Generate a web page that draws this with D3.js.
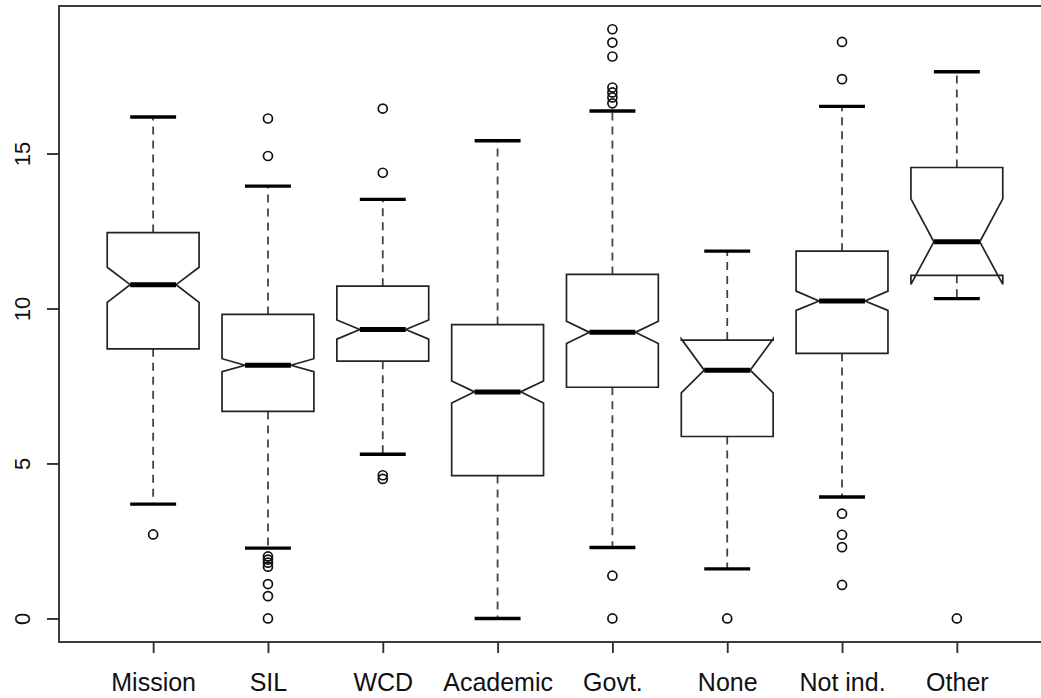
<!DOCTYPE html>
<html>
<head>
<meta charset="utf-8">
<script src="https://cdn.jsdelivr.net/npm/d3@7"></script>
<style>
  html, body { margin: 0; padding: 0; background: #fff; overflow: hidden; }
  svg { display: block; }
  text { font-family: "Liberation Sans", Arial, Helvetica, sans-serif; fill: #111; }
</style>
</head>
<body>
<svg id="chart" width="1041" height="698"></svg>
<script>
const categories = ["Mission", "SIL", "WCD", "Academic", "Govt.", "None", "Not ind.", "Other"];
const whiskerHi = [16.18, 13.95, 13.52, 15.41, 16.37, 11.85, 16.52, 17.64];
const q3        = [12.45,  9.81, 10.72,  9.48, 11.10,  8.98, 11.85, 14.55];
const notchHi   = [11.33,  8.38,  9.63,  7.66,  9.59,  9.02, 10.56, 13.54];
const median    = [10.77,  8.17,  9.32,  7.31,  9.23,  8.01, 10.24, 12.15];
const notchLo   = [10.20,  7.96,  9.01,  6.95,  8.87,  7.28,  9.94, 10.78];
const q1        = [ 8.70,  6.68,  8.30,  4.61,  7.46,  5.87,  8.55, 11.07];
const whiskerLo = [ 3.69,  2.27,  5.30,  0.00,  2.29,  1.60,  3.92, 10.32];
const outliers = [
  [2.71],
  [16.13, 14.92, 2.00, 1.90, 1.80, 1.67, 1.11, 0.72, 0.00],
  [16.45, 14.38, 4.62, 4.50],
  [],
  [19.01, 18.58, 18.13, 17.13, 16.97, 16.81, 16.62, 1.38, 0.00],
  [0.00],
  [18.60, 17.40, 3.38, 2.70, 2.30, 1.08],
  [0.00]
];
const yTicks = [0, 5, 10, 15];

const svg = d3.select("#chart");
const plot = { left: 59, right: 1051, top: 6, bottom: 642 };

const x = d3.scalePoint().domain(categories).range([plot.left, plot.right]).padding(0.82);
const y = d3.scaleLinear().domain([-0.76, 19.76]).range([plot.bottom, plot.top]);
const step = x.step();
const bw = step * 0.4;      // box half-width
const nw = bw * 0.5;        // notch half-width
const sw = step * 0.2;      // staple half-width

const data = categories.map((c, i) => ({
  c, wHi: whiskerHi[i], q3: q3[i], nHi: notchHi[i], med: median[i],
  nLo: notchLo[i], q1: q1[i], wLo: whiskerLo[i], out: outliers[i]
}));

const g = svg.append("g");

// whiskers
data.forEach(d => {
  const cx = x(d.c);
  [[d.q3, d.wHi], [d.q1, d.wLo]].forEach(([a, b]) => {
    g.append("line")
      .attr("x1", cx).attr("x2", cx)
      .attr("y1", y(a)).attr("y2", y(b))
      .attr("stroke", "#444").attr("stroke-width", 1.8)
      .attr("stroke-dasharray", "8,6");
  });
  [d.wHi, d.wLo].forEach(v => {
    g.append("line")
      .attr("x1", cx - sw).attr("x2", cx + sw)
      .attr("y1", y(v)).attr("y2", y(v))
      .attr("stroke", "#000").attr("stroke-width", 3.4);
  });
});

// notched boxes
data.forEach(d => {
  const cx = x(d.c);
  const xl = cx - bw, xr = cx + bw, ml = cx - nw, mr = cx + nw;
  const pts = [
    [xl, y(d.q1)], [xl, y(d.nLo)], [ml, y(d.med)], [xl, y(d.nHi)], [xl, y(d.q3)],
    [xr, y(d.q3)], [xr, y(d.nHi)], [mr, y(d.med)], [xr, y(d.nLo)], [xr, y(d.q1)]
  ];
  g.append("path")
    .attr("d", d3.line()(pts) + "Z")
    .attr("fill", "#fff").attr("stroke", "#222").attr("stroke-width", 1.7)
    .attr("stroke-linejoin", "miter");
  g.append("line")
    .attr("x1", ml).attr("x2", mr)
    .attr("y1", y(d.med)).attr("y2", y(d.med))
    .attr("stroke", "#000").attr("stroke-width", 5);
});

// outliers
data.forEach(d => {
  g.selectAll(null).data(d.out).enter().append("circle")
    .attr("cx", x(d.c)).attr("cy", v => y(v)).attr("r", 4.5)
    .attr("fill", "none").attr("stroke", "#111").attr("stroke-width", 1.7);
});

// frame
svg.append("rect")
  .attr("x", plot.left).attr("y", plot.top)
  .attr("width", plot.right - plot.left).attr("height", plot.bottom - plot.top)
  .attr("fill", "none").attr("stroke", "#333").attr("stroke-width", 1.9);

// x axis
const xAxis = svg.append("g").attr("transform", `translate(0,${plot.bottom})`)
  .call(d3.axisBottom(x).tickSize(11).tickPadding(20));
xAxis.select(".domain").remove();
xAxis.selectAll(".tick line").attr("stroke", "#333").attr("stroke-width", 1.9);
xAxis.selectAll(".tick text")
  .style("font-family", '"Liberation Sans", Arial, sans-serif')
  .attr("font-size", 25).attr("fill", "#111");

// y axis
const yAxis = svg.append("g").attr("transform", `translate(${plot.left},0)`)
  .call(d3.axisLeft(y).tickValues(yTicks).tickSize(12).tickFormat(d3.format("d")));
yAxis.select(".domain").remove();
yAxis.selectAll(".tick line").attr("stroke", "#333").attr("stroke-width", 1.9);
yAxis.selectAll(".tick text")
  .style("font-family", '"Liberation Sans", Arial, sans-serif')
  .attr("font-size", 22).attr("fill", "#111")
  .attr("text-anchor", "middle")
  .attr("x", 0).attr("dy", "0.35em")
  .attr("transform", "translate(-37,0) rotate(-90)");
</script>
</body>
</html>
